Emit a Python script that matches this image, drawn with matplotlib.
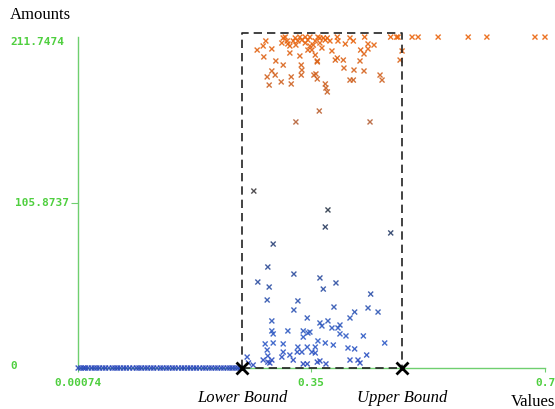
import numpy as np
import matplotlib.pyplot as plt
import matplotlib.transforms as mtransforms
from matplotlib.colors import LinearSegmentedColormap

# axis ticks
x_ticks = [0.00074, 0.35, 0.7]
x_tick_labels = ["0.00074", "0.35", "0.7"]
y_ticks = [0, 105.8737, 211.7474]
y_tick_labels = ["0", "105.8737", "211.7474"]

lower_bound = 0.2463
upper_bound = 0.4859
box_top = 214.3

# points sitting on the baseline (amount 0)
zero_x = [0.001, 0.005, 0.009, 0.012, 0.016, 0.021, 0.025, 0.029, 0.033, 0.038,
          0.042, 0.047, 0.052, 0.056, 0.060, 0.064, 0.069, 0.073, 0.078, 0.083,
          0.088, 0.092, 0.096, 0.101, 0.105, 0.110, 0.114, 0.119, 0.124, 0.128,
          0.133, 0.137, 0.142, 0.146, 0.151, 0.156, 0.160, 0.165, 0.169, 0.174,
          0.178, 0.183, 0.188, 0.192, 0.197, 0.201, 0.206, 0.210, 0.215, 0.219,
          0.224, 0.228, 0.232, 0.236, 0.240, 0.244, 0.248]

# points inside the bounds and at the top
pt_x = [0.269, 0.278, 0.282, 0.291, 0.279, 0.297, 0.308, 0.306, 0.308, 0.314,
        0.318, 0.318, 0.323, 0.326, 0.330, 0.333, 0.336, 0.341, 0.345, 0.348,
        0.351, 0.353, 0.356, 0.359, 0.363, 0.366, 0.368, 0.374, 0.378, 0.381,
        0.386, 0.389, 0.389, 0.390, 0.398, 0.401, 0.408, 0.413, 0.424, 0.430,
        0.429, 0.435, 0.435, 0.444, 0.423, 0.469, 0.478, 0.486, 0.483, 0.335,
        0.336, 0.335, 0.291, 0.296, 0.284, 0.305, 0.320, 0.320, 0.287, 0.359,
        0.357, 0.354, 0.359, 0.371, 0.372, 0.374, 0.399, 0.414, 0.429, 0.408,
        0.413, 0.453, 0.456, 0.362, 0.327, 0.438,
        0.311, 0.333, 0.341, 0.348, 0.360, 0.371, 0.315, 0.345, 0.356, 0.363, 0.327,
        0.480, 0.501, 0.510, 0.540, 0.585, 0.613, 0.685, 0.700,
        0.264, 0.375, 0.371, 0.469, 0.293, 0.285, 0.270, 0.287, 0.324, 0.363,
        0.368, 0.387, 0.284, 0.330, 0.439, 0.324, 0.384, 0.415, 0.435, 0.450,
        0.291, 0.344, 0.363, 0.375, 0.366, 0.408, 0.393, 0.315, 0.338, 0.345,
        0.348, 0.291, 0.293, 0.381, 0.390, 0.393, 0.402, 0.428, 0.338, 0.360,
        0.371, 0.383, 0.293, 0.281, 0.308, 0.330, 0.329, 0.336, 0.344, 0.351,
        0.356, 0.356, 0.405, 0.415, 0.460, 0.284, 0.308, 0.306, 0.318, 0.323,
        0.278, 0.285, 0.288, 0.291, 0.285, 0.254, 0.256, 0.263, 0.338, 0.344,
        0.359, 0.363, 0.372, 0.408, 0.420, 0.423, 0.433]
pt_y = [203.4, 206.0, 209.2, 204.1, 199.0, 196.4, 193.8, 207.9, 211.1, 209.2,
        206.0, 201.5, 209.2, 211.1, 209.2, 199.6, 209.8, 207.9, 209.8, 206.0,
        203.4, 206.6, 209.2, 196.4, 211.1, 204.7, 211.1, 211.1, 209.2, 202.8,
        197.0, 198.3, 211.7, 209.2, 197.0, 207.3, 211.1, 209.2, 203.4, 211.7,
        200.9, 207.3, 204.1, 206.6, 196.4, 211.7, 211.7, 202.8, 197.0, 193.8,
        190.6, 187.4, 190.0, 187.4, 186.2, 183.0, 186.2, 181.7, 181.0, 195.8,
        188.1, 187.4, 184.9, 181.7, 179.1, 176.6, 191.9, 190.6, 190.0, 184.2,
        184.2, 187.4, 184.2, 164.4, 157.4, 157.4,
        211.7, 211.7, 211.7, 211.7, 211.7, 209.8, 207.3, 203.4, 200.2, 207.9, 206.6,
        211.7, 211.7, 211.7, 211.7, 211.7, 211.7, 211.7, 211.7,
        113.2, 101.1, 90.2, 86.4, 79.3, 64.6, 55.0, 51.8, 60.1, 57.6,
        50.5, 54.4, 43.5, 42.9, 47.3, 37.1, 39.0, 35.8, 38.4, 35.8,
        30.1, 32.0, 28.8, 30.1, 26.9, 32.0, 27.5, 23.7, 23.7, 22.4,
        23.0, 23.7, 21.8, 25.6, 25.6, 21.8, 20.5, 20.5, 19.8, 17.3,
        16.0, 14.7, 16.0, 15.4, 15.4, 13.4, 10.2, 10.2, 13.4, 10.2,
        9.6, 13.4, 12.8, 12.2, 16.0, 11.5, 10.2, 7.0, 8.3, 5.1,
        5.1, 3.8, 3.2, 5.1, 7.7, 7.0, 3.2, 1.9, 2.6, 2.6,
        3.8, 4.5, 2.6, 5.1, 5.1, 3.2, 8.3]

all_x = np.array(zero_x + pt_x)
all_y = np.array([0.0] * len(zero_x) + pt_y)

cmap = LinearSegmentedColormap.from_list(
    "amounts", [(0.0, "#2a48bc"), (0.08, "#2f5cc8"), (0.3, "#2b4a98"),
                (0.5, "#2a3540"), (0.72, "#b0603a"), (1.0, "#ea640c")])

green_axis = "#6fcf6f"
green_text = "#4fcf3f"

fig = plt.figure(figsize=(5.55, 4.09), dpi=100)
ax = fig.add_axes([78 / 555, 41 / 409, 467 / 555, 331 / 409])

ax.scatter(all_x, all_y, c=all_y, cmap=cmap, vmin=0, vmax=211.7474,
           marker="x", s=13, linewidths=1.0, alpha=0.9, clip_on=False, zorder=3)

# dashed bounds box and the two bound markers
ax.plot([lower_bound, lower_bound, upper_bound, upper_bound],
        [0, box_top, box_top, 0], color="#222222", lw=1.2,
        dashes=(5, 3), clip_on=False, zorder=4)
ax.plot([lower_bound, upper_bound], [0, 0], color="#222222", lw=1.2,
        dashes=(5, 3), clip_on=False, zorder=4)
ax.plot([lower_bound, upper_bound], [0, 0], linestyle="none", marker="x",
        ms=9, mew=2, color="black", clip_on=False, zorder=5)

ax.set_xlim(0.00074, 0.7)
ax.set_ylim(0, 211.7474)

for side in ["top", "right"]:
    ax.spines[side].set_visible(False)
for side in ["left", "bottom"]:
    ax.spines[side].set_color(green_axis)
    ax.spines[side].set_linewidth(1.0)

tick_font = dict(family="DejaVu Sans Mono", weight="bold", size=8)
ax.set_xticks(x_ticks)
ax.set_xticklabels(x_tick_labels, color=green_text, **tick_font)
ax.tick_params(axis="x", length=3, pad=4, color=green_axis)

ax.set_yticks(y_ticks)
ax.set_yticklabels(y_tick_labels, color=green_text, ha="left", **tick_font)
ax.tick_params(axis="y", length=5, pad=44, color=green_axis)
yticks = ax.yaxis.get_major_ticks()
yticks[0].tick1line.set_visible(False)
yticks[2].tick1line.set_visible(False)
shifts = [(0, 3), (5, 0), (0, -4)]
for lab, (dx, dy) in zip(ax.get_yticklabels(), shifts):
    lab.set_transform(lab.get_transform() +
                      mtransforms.ScaledTranslation(dx / 100, dy / 100, fig.dpi_scale_trans))

serif = "Liberation Serif"
fig.text(10 / 555, 1 - 15 / 409, "Amounts", family=serif, size=12, va="center", ha="left")
fig.text(555 / 555, 1 - 402 / 409, "Values", family=serif, size=12, va="center", ha="right")

trans = mtransforms.blended_transform_factory(ax.transData, fig.transFigure)
ax.text(lower_bound, 1 - 398 / 409, "Lower Bound", transform=trans, family=serif,
        style="italic", size=12, ha="center", va="center")
ax.text(upper_bound, 1 - 398 / 409, "Upper Bound", transform=trans, family=serif,
        style="italic", size=12, ha="center", va="center")

fig.savefig("out.png", dpi=100)
